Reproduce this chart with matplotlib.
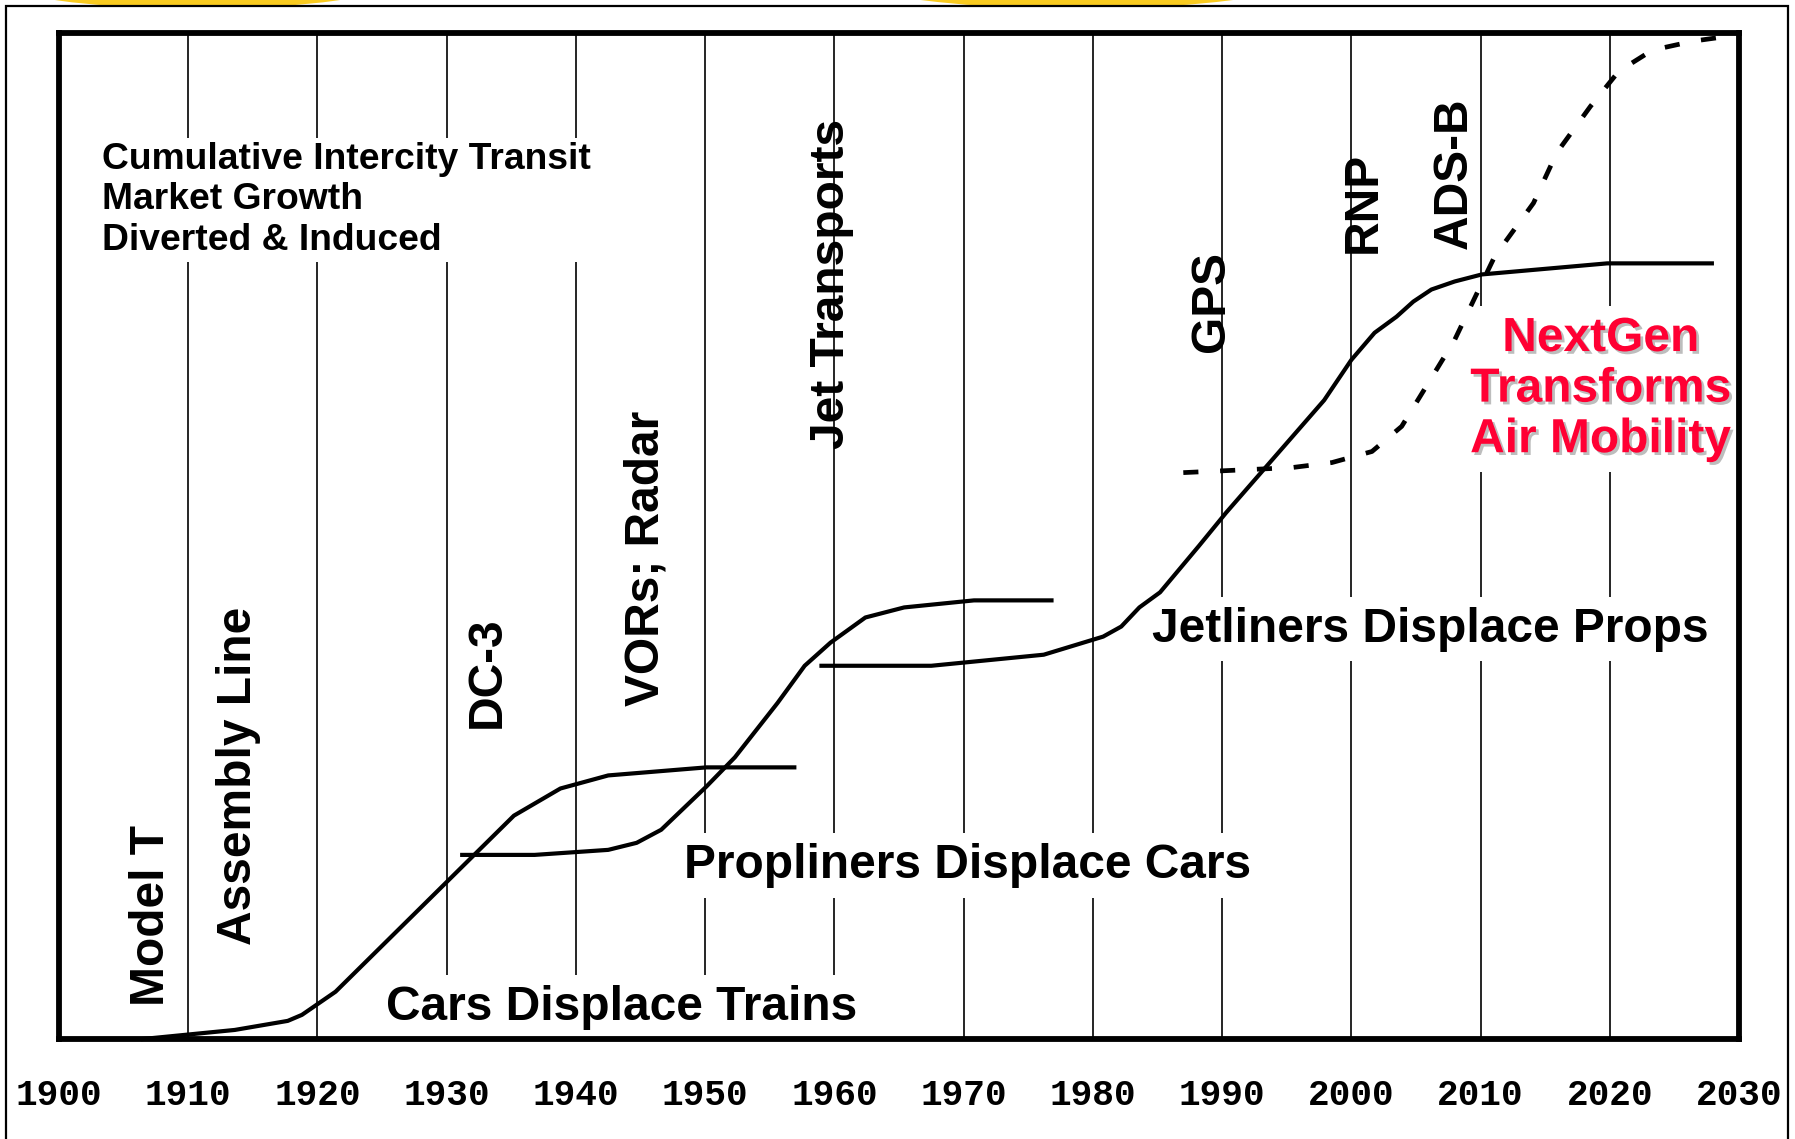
import matplotlib
matplotlib.use('Agg')
import matplotlib.pyplot as plt
from matplotlib import patheffects
from matplotlib.patches import Ellipse, Rectangle

# ==================== data
DECADES = list(range(1900, 2031, 10))
TICK_LABELS = [str(y) for y in DECADES]

# cumulative intercity transit market (index, 0-100)
cars_year = [1906.5, 1913.6, 1917.7, 1918.8, 1921.4, 1935.2, 1938.8, 1942.5, 1950.1, 1956.9]
cars_val = [0.0, 0.9, 1.8, 2.4, 4.7, 22.2, 24.9, 26.2, 27.0, 27.0]

props_year = [1931.2, 1936.8, 1942.5, 1944.7, 1946.6, 1950.1, 1952.3, 1955.6,
              1957.7, 1959.7, 1962.4, 1965.4, 1970.8, 1976.8]
props_val = [18.3, 18.3, 18.8, 19.5, 20.8, 25.1, 28.0, 33.4,
             37.1, 39.4, 41.9, 42.9, 43.6, 43.6]

jets_year = [1959.0, 1967.5, 1976.2, 1980.8, 1982.2, 1983.6, 1985.2, 1988.2, 1990.3,
             1997.9, 2000.0, 2001.8, 2003.5, 2004.8, 2006.2, 2008.0, 2010.1, 2019.8, 2027.9]
jets_val = [37.1, 37.1, 38.2, 40.0, 41.0, 42.9, 44.4, 49.0, 52.3,
            63.5, 67.5, 70.2, 71.8, 73.3, 74.5, 75.3, 76.0, 77.1, 77.1]

nextgen_year = [1987.0, 1995.4, 1998.5, 2001.6, 2003.9, 2006.1, 2008.0, 2009.6, 2011.1,
                2014.1, 2015.9, 2018.5, 2020.7, 2023.3, 2026.5, 2029.3, 2030.0]
nextgen_val = [56.3, 56.8, 57.3, 58.4, 60.9, 65.5, 69.5, 73.8, 77.8,
               83.1, 88.1, 92.7, 96.2, 98.3, 99.2, 99.7, 100.0]

# ==================== figure
plt.rcParams['font.family'] = ['Liberation Sans', 'DejaVu Sans']
plt.rcParams['font.weight'] = 'bold'

fig = plt.figure(figsize=(17.95, 11.39), dpi=100)

# slide decoration: yellow shapes peeking over the frame, thin outer frame
for cx, w, h in [(0.11, 0.22, 0.05), (0.60, 0.26, 0.06)]:
    fig.patches.append(Ellipse((cx, 0.9943 + h / 2 - 0.002), w, h, transform=fig.transFigure,
                               facecolor='#F9CB20', edgecolor='none', zorder=-3))
fig.patches.append(Rectangle((0.0032, -0.1), 0.9929, 1.0943, transform=fig.transFigure,
                             facecolor='white', edgecolor='black', lw=1.6, zorder=-2))

ax = fig.add_axes([0.03287, 0.08780, 0.93593, 0.88323])
ax.set_xlim(1900, 2030)
ax.set_ylim(0, 100)
for s in ax.spines.values():
    s.set_linewidth(4.2)
ax.set_yticks([])
ax.set_xticks(DECADES)
ax.set_xticklabels(TICK_LABELS, family='Liberation Mono', weight='bold', fontsize=26)
ax.tick_params(axis='x', length=0, pad=28)

for yr in DECADES[1:-1]:
    ax.axvline(yr, color='black', lw=1.2, zorder=1)

# ==================== curves
kw = dict(color='black', lw=3.0, solid_joinstyle='round', clip_on=False, zorder=4)
ax.plot(cars_year, cars_val, **kw)
ax.plot(props_year, props_val, **kw)
ax.plot(jets_year, jets_val, **kw)
ax.plot(nextgen_year, nextgen_val, color='black', lw=3.4, dashes=(3.2, 4.6),
        clip_on=False, zorder=4)

# ==================== labels
box = dict(boxstyle='square,pad=0.2', facecolor='white', edgecolor='none')
big = 34.5

ax.text(1903.34, 83.4, 'Cumulative Intercity Transit\nMarket Growth\nDiverted & Induced',
        ha='left', va='center', fontsize=26.8, linespacing=1.2,
        bbox=dict(boxstyle='square,pad=0.1', facecolor='white', edgecolor='none'), zorder=2)

ax.text(1943.56, 1.93, 'Cars Displace Trains', ha='center', va='baseline',
        fontsize=big, bbox=box, zorder=2)
ax.text(1970.3, 16.0, 'Propliners Displace Cars', ha='center', va='baseline',
        fontsize=big, bbox=box, zorder=2)
ax.text(2006.1, 39.5, 'Jetliners Displace Props', ha='center', va='baseline',
        fontsize=big, bbox=box, zorder=2)

milestones = [('Model T', 1908.15, 12.3), ('Assembly Line', 1914.88, 26.2),
              ('DC-3', 1934.1, 36.5), ('VORs; Radar', 1946.4, 47.8),
              ('Jet Transports', 1960.75, 75.1), ('GPS', 1990.15, 73.3),
              ('RNP', 2001.93, 83.2), ('ADS-B', 2008.93, 86.1)]
for name, x, y in milestones:
    ax.text(x, y, name, rotation=90, rotation_mode='anchor', ha='center',
            va='baseline', fontsize=big, zorder=3)

ax.text(2019.3, 64.6, 'NextGen\nTransforms\nAir Mobility', ha='center', va='center',
        fontsize=big, color='#FF0033', linespacing=1.16, bbox=box, zorder=2,
        path_effects=[patheffects.SimplePatchShadow(offset=(2, -2), shadow_rgbFace='#BDBDBD', alpha=1),
                      patheffects.Normal()])

fig.savefig('out.png', dpi=100)
